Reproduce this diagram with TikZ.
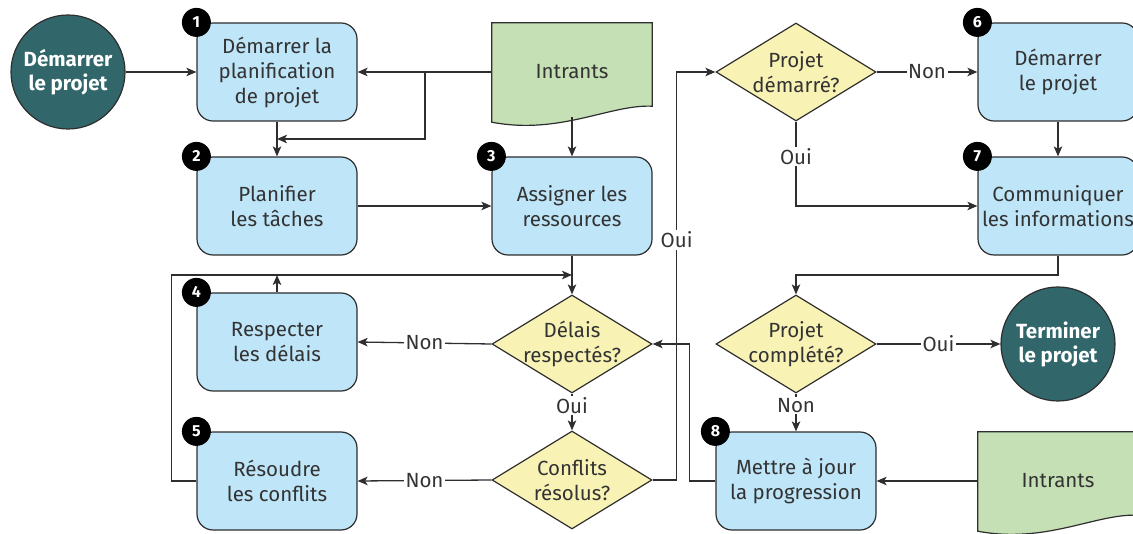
\documentclass[tikz,border=0pt]{standalone}
\usepackage{fontspec}
\setmainfont{Fira Sans}
\usepackage{tikz}
\usetikzlibrary{calc}
\usetikzlibrary{shapes}
\usetikzlibrary{arrows.meta}
\usetikzlibrary{backgrounds}
\definecolor{boxblue}{HTML}{BEE5F8}
\definecolor{diayellow}{HTML}{F8F3B5}
\definecolor{docgreen}{HTML}{C5E0B4}
\definecolor{tealdark}{HTML}{31676B}
\definecolor{linegray}{HTML}{2E2E2E}
\definecolor{textgray}{HTML}{333333}
\newcommand{\badge}[2]{\node[badge] (n#2) at (#1.north west) {#2};}
\newcommand{\docpath}[1]{\filldraw[docline] (#1.north west) -- (#1.north east) -- ($(#1.south east)+(0,-15)$) .. controls ($(#1.south east)+(-42,-17)$) and ($(#1.south west)+(68,14)$) .. ($(#1.south west)+(0,1)$) -- cycle;}

\begin{document}
\begin{tikzpicture}[x=1pt,y=-1pt,
    every node/.style={font=\fontsize{20.5}{25}\selectfont, text=textgray},
    box/.style={rectangle, rounded corners=16, draw=linegray, line width=1.2pt, fill=boxblue, minimum width=160, minimum height=98, inner sep=0, align=center},
    ask/.style={diamond, draw=linegray, line width=1.2pt, fill=diayellow, minimum width=160, minimum height=98, inner xsep=-30, inner ysep=0, align=center},
    doc/.style={rectangle, minimum width=160, minimum height=98, inner sep=0},
    docline/.style={fill=docgreen, draw=linegray, line width=1.2pt},
    ends/.style={circle, draw=linegray, line width=1.2pt, fill=tealdark, minimum size=114, inner sep=0, align=center, text=white, font=\bfseries\fontsize{20.5}{24}\selectfont},
    badge/.style={circle, fill=black, minimum size=29, inner sep=0, text=white, font=\bfseries\fontsize{16}{16}\selectfont},
    lbl/.style={fill=white, inner sep=1.5},
    arr/.style={draw=linegray, line width=1.3pt, -{Stealth[length=10pt,width=8.5pt,inset=2.5pt]}}]
    \useasboundingbox (0,0) rectangle (1133,534);
    \node[ends] (start) at (68,72) {Démarrer\\le projet};
    \node[box] (p1) at (277,72) {Démarrer la\\planification\\de projet};
    \node[box] (p2) at (277,206) {Planifier\\les tâches};
    \node[box] (p3) at (572,206) {Assigner les\\ressources};
    \node[box] (p4) at (277,342) {Respecter\\les délais};
    \node[box] (p5) at (277,481) {Résoudre\\les conflits};
    \node[box] (p6) at (1058,72) {Démarrer\\le projet};
    \node[box] (p7) at (1058,206) {Communiquer\\les informations};
    \node[box] (p8) at (796,481) {Mettre à jour\\la progression};
    \node[doc] (in1) at (572,72) {Intrants};
    \node[doc] (in2) at (1058,481) {Intrants};
    \node[ask] (q1) at (572,344) {Délais\\respectés?};
    \node[ask] (q2) at (572,480) {Conflits\\résolus?};
    \node[ask] (q3) at (796,72) {Projet\\démarré?};
    \node[ask] (q4) at (796,344) {Projet\\complété?};
    \node[ends] (stop) at (1058,344) {Terminer\\le projet};
    \badge{p1}{1}
    \badge{p2}{2}
    \badge{p3}{3}
    \badge{p4}{4}
    \badge{p5}{5}
    \badge{p6}{6}
    \badge{p7}{7}
    \badge{p8}{8}
    \begin{scope}[on background layer]
    \docpath{in1}
    \docpath{in2}
    \end{scope}
    \coordinate (j1) at (425,72);
    \coordinate (m12) at ($(p1.south)!0.5!(p2.north)$);
    \coordinate (m3q) at ($(p3.south)!0.5!(q1.north)$);
    \draw[arr] (start) -- (p1);
    \draw[arr] (in1.west) -- (p1.east);
    \draw[arr] (j1) |- (m12);
    \draw[arr] (p1) -- (p2);
    \draw[arr] ($(in1.south)+(0,-4)$) -- (p3.north);
    \draw[arr] (p2) -- (p3);
    \draw[arr] (p3) -- (q1);
    \draw[arr] (p5.west) -- ++(-25,0) |- (m3q);
    \draw[arr] (p4.north) -- (p4.north |- m3q);
    \draw[arr] (q1.west) -- node[lbl] (l1) {Non} (p4.east);
    \draw[arr] (q1.south) -- node[lbl,pos=0.32] (l2) {Oui} (q2.north);
    \draw[arr] (q2.west) -- node[lbl] (l3) {Non} (p5.east);
    \draw[arr] (q2.east) -- ++(24,0) |- node[lbl,pos=0.294] (l4) {Oui} (q3.west);
    \draw[arr] (p8.west) -- ++(-26,0) |- (q1.east);
    \draw[arr] (q3.east) -- node[lbl] (l5) {Non} (p6.west);
    \draw[arr] (q3.south) |- node[lbl,pos=0.206] (l6) {Oui} (p7.west);
    \draw[arr] (p6) -- (p7);
    \draw[arr] (p7.south) -- (p7.south |- m3q) -| (q4.north);
    \draw[arr] (q4.east) -- node[lbl] (l7) {Oui} (stop.west);
    \draw[arr] (q4.south) -- node[lbl,pos=0.32] (l8) {Non} (p8.north);
    \draw[arr] (in2.west) -- (p8.east);
\end{tikzpicture}
\end{document}
